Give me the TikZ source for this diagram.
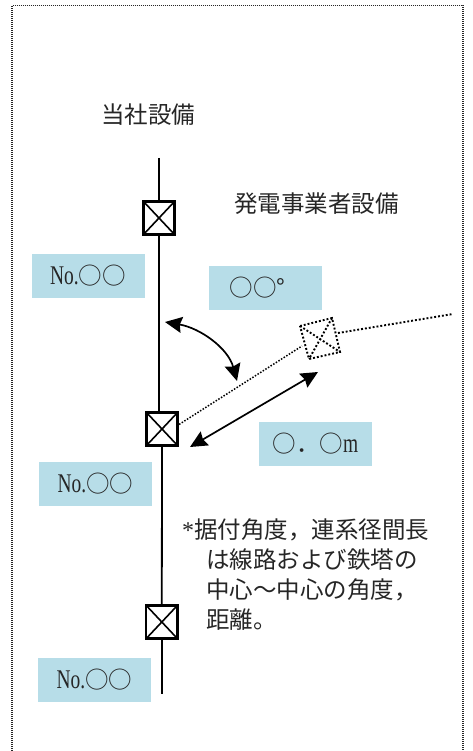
\documentclass[tikz,border=0pt]{standalone}
\usepackage{fontspec}
\setmainfont{Noto Sans CJK JP}[Scale=1]
\newfontfamily\latinf{Liberation Serif}
\newfontfamily\narrowf{Liberation Serif}[FakeStretch=0.72]
\usetikzlibrary{arrows.meta}
\newcommand{\lbltext}[1]{\raisebox{-3pt}{#1}}
\newcommand{\nolbl}{\lbltext{{\narrowf\fontsize{27}{27}\selectfont No.}○○}}
\tikzset{
  px/.style={x=1pt,y=-1pt},
  swbox/.style={draw=black,line width=2.7pt,fill=white,minimum width=31.5pt,minimum height=33.5pt,inner sep=0pt,path picture={\draw[line width=1.6pt] (path picture bounding box.north west)--(path picture bounding box.south east) (path picture bounding box.north east)--(path picture bounding box.south west);}},
  label/.style={fill=labelblue,minimum width=113pt,minimum height=44pt,inner sep=0pt,font=\fontsize{23.5}{24}\selectfont,text=black!85},
  txt/.style={inner sep=0pt,anchor=base west,font=\fontsize{23.5}{24}\selectfont,text=black!85},
  wire/.style={line width=1.8pt,draw=black},
  dotwire/.style={line width=1.9pt,draw=black,dash pattern=on 1.9pt off 2pt},
  thindot/.style={line width=1.5pt,draw=black,dash pattern=on 1.5pt off 1.6pt},
  arr/.style={line width=1.7pt,{Stealth[length=17pt,width=16pt,inset=2pt]}-{Stealth[length=17pt,width=16pt,inset=2pt]}}
}
\definecolor{labelblue}{HTML}{B7DDE8}
\begin{document}
\begin{tikzpicture}[px]
\useasboundingbox (0,0) rectangle (472,751);
\draw[line width=1.2pt,dash pattern=on 1pt off 1pt,black!85] (12,751)--(12,5.5)--(463,5.5)--(463,751);
\node[label] (l1) at (88,276) {\nolbl};
\node[label] (l2) at (265.5,288) {\lbltext{○○°\hspace{16pt}}};
\node[label] (l3) at (315.5,444) {\lbltext{○．○{\narrowf\fontsize{27}{27}\selectfont m}}};
\node[label] (l4) at (95.5,484) {\nolbl};
\node[label] (l5) at (94.5,680) {\nolbl};
\coordinate (top) at (159,158);
\coordinate (j) at (159,411);
\coordinate (end) at (161.8,694);
\coordinate (far) at (453,314);
\node[swbox] (s1) at (159,218) {};
\node[swbox] (s2) at (162,429) {};
\node[swbox] (s3) at (161.8,622) {};
\draw[wire] (top)--(s1.north);
\draw[wire] (s1.south)--(j);
\draw[wire] (s2.south)--(s3.north);
\draw[wire] (s3.south)--(end);
\coordinate (d1) at (300,326);\coordinate (d2) at (332,318);\coordinate (d3) at (340,352);\coordinate (d4) at (309,359);
\draw[dotwire] (d1)--(d2)--(d3)--(d4)--cycle (d1)--(d3) (d2)--(d4);
\coordinate (d5) at (302,346);\coordinate (d6) at (338,333);
\draw[thindot] (s2.15)--(d5);
\draw[dotwire] (d6)--(far);
\coordinate (a1) at (165,322);\coordinate (a2) at (237,381);
\draw[arr] (a1) .. controls (200,328) and (228,348) .. (a2);
\coordinate (b1) at (190,447);\coordinate (b2) at (318,372);
\draw[arr] (b1)--(b2);
\node[txt] (t1) at (101,124) {当社設備};
\node[txt] (t2) at (234,212) {発電事業者設備};
\node[txt] (t3) at (182,538) {{\latinf\fontsize{24}{24}\selectfont *}据付角度，連系径間長};
\node[txt] (t4) at (206,568) {は線路および鉄塔の};
\node[txt] (t5) at (206,598) {中心～中心の角度，};
\node[txt] (t6) at (206,628) {距離。};
\end{tikzpicture}
\end{document}
